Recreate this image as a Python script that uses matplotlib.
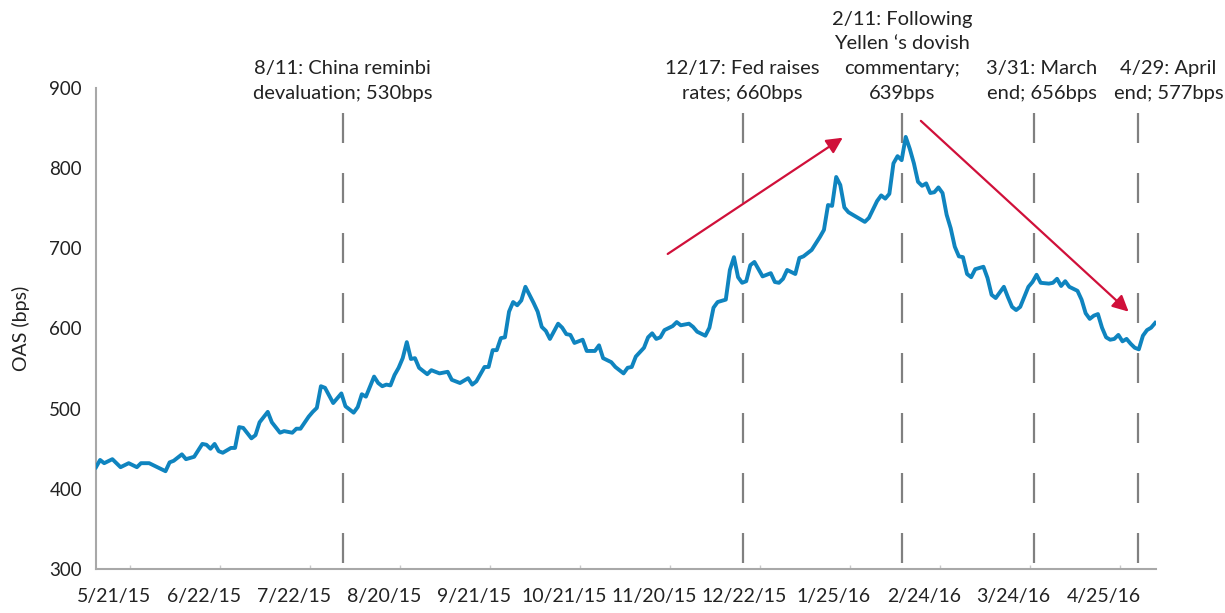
import matplotlib
matplotlib.use("Agg")
import matplotlib.pyplot as plt
import numpy as np

plt.rcParams['font.family'] = ['Lato', 'DejaVu Sans']

# trading-day index of each reading, and OAS value (bps)
day_idx = [0, 1, 2, 4, 6, 8, 10, 11, 13, 15, 17, 18, 19, 21, 22, 24, 25, 26, 27, 28,
           29, 30, 31, 33, 34, 35, 36, 38, 39, 40, 42, 43, 45, 46, 48, 49, 50, 52, 53, 54,
           55, 56, 58, 60, 61, 63, 64, 65, 66, 68, 69, 70, 71, 72, 73, 74, 75, 76, 77, 78,
           79, 81, 82, 84, 86, 87, 89, 91, 92, 93, 95, 96, 97, 98, 99, 100, 101, 102, 103, 104,
           105, 107, 108, 109, 110, 111, 113, 114, 115, 116, 117, 119, 120, 122, 123, 124, 126, 127, 129, 130,
           131, 132, 134, 135, 136, 137, 138, 139, 141, 142, 143, 145, 146, 147, 149, 150, 151, 152, 154, 155,
           156, 157, 158, 159, 160, 161, 163, 165, 166, 167, 168, 169, 171, 172, 173, 175, 177, 178, 179, 180,
           181, 182, 183, 184, 186, 188, 189, 191, 192, 193, 194, 195, 196, 197, 198, 199, 200, 201, 202, 203,
           204, 205, 206, 207, 208, 209, 210, 211, 212, 213, 214, 215, 217, 218, 219, 220, 222, 223, 224, 225,
           226, 228, 229, 230, 231, 233, 234, 235, 236, 237, 238, 240, 241, 242, 243, 244, 245, 246, 247, 248,
           249, 250, 251, 252, 253, 254, 255, 256, 257, 258, 259]
oas = [427, 436, 432, 437, 427, 432, 427, 432, 432, 427, 422, 433, 435, 443, 437, 440, 448, 456, 455, 450,
       456, 447, 445, 451, 451, 477, 476, 463, 467, 483, 496, 483, 470, 472, 470, 475, 475, 490, 496, 501,
       528, 526, 507, 519, 503, 495, 502, 518, 515, 540, 532, 528, 530, 529, 542, 551, 563, 583, 562, 563,
       551, 543, 548, 544, 546, 536, 532, 538, 530, 534, 552, 552, 573, 573, 588, 589, 621, 633, 629, 635,
       652, 632, 621, 602, 597, 587, 606, 601, 593, 592, 582, 586, 572, 572, 579, 563, 558, 552, 544, 551,
       552, 565, 576, 589, 594, 587, 589, 598, 603, 608, 604, 606, 602, 596, 591, 601, 626, 633, 636, 673,
       689, 664, 657, 659, 679, 683, 665, 669, 658, 657, 662, 673, 668, 688, 690, 698, 714, 723, 754, 753,
       789, 779, 751, 745, 739, 733, 738, 759, 766, 762, 768, 806, 815, 810, 839, 824, 806, 783, 778, 781,
       769, 770, 776, 769, 742, 725, 702, 690, 689, 668, 664, 674, 677, 663, 642, 638, 652, 639, 627, 623,
       627, 652, 658, 667, 657, 656, 657, 662, 653, 659, 652, 647, 636, 619, 612, 616, 618, 601, 589, 586,
       587, 592, 584, 587, 581, 576, 574, 591, 598, 601, 607]

tick_labels = ['5/21/15', '6/22/15', '7/22/15', '8/20/15', '9/21/15', '10/21/15',
               '11/20/15', '12/22/15', '1/25/16', '2/24/16', '3/24/16', '4/25/16']
event_idx = [60.3, 158.1, 197.1, 229.3, 254.8]
event_text = ['8/11: China reminbi\ndevaluation; 530bps',
              '12/17: Fed raises\nrates; 660bps',
              '2/11: Following\nYellen \u2018s dovish\ncommentary;\n639bps',
              '3/31: March\nend; 656bps',
              '4/29: April\nend; 577bps']
# arrows (start -> end) in (index, bps)
arrows = [((139.8, 693), (182.6, 838)), ((201.7, 859), (252.5, 621))]

# horizontal nudges for the event labels (layout only)
label_shift = [0, 0, 0, 2, 7.5]

fig = plt.figure(figsize=(12.25, 6.13), dpi=100)
ax = fig.add_axes([96/1225, 44/613, (1156-96)/1225, (569-88)/613])

line_color = '#0f84bf'
ax.plot(day_idx, oas, color=line_color, lw=2.8, solid_joinstyle='round', zorder=3)

ax.set_xlim(0, 259.2)
ax.set_ylim(300, 900)
ax.set_yticks(np.arange(300, 901, 100))
ax.tick_params(axis='y', length=0, pad=10, labelsize=13.5, labelcolor='#222222')

label_pos = [4.4 + 22 * k for k in range(len(tick_labels))]
ax.set_xticks(label_pos)
ax.set_xticklabels(tick_labels)
ax.tick_params(axis='x', which='major', length=0, pad=14, labelsize=14, labelcolor='#222222')
ax.set_xticks([8.3 + 22 * k for k in range(len(tick_labels))], minor=True)
ax.tick_params(axis='x', which='minor', length=3, width=1, color='#c8c8c8', direction='in')

for s in ['top', 'right']:
    ax.spines[s].set_visible(False)
for s in ['left', 'bottom']:
    ax.spines[s].set_color('#a8a8a8')
    ax.spines[s].set_linewidth(1.5)

ax.set_ylabel('OAS (bps)', fontsize=14, color='#222222', labelpad=14)

# event lines and labels
for xi, txt, dx in zip(event_idx, event_text, label_shift):
    ax.plot([xi, xi], [869, 300], color='#808080', lw=1.6,
            linestyle=(0, (13.5, 13.5)), zorder=2, clip_on=False)
    ax.text(xi + dx, 883, txt, ha='center', va='bottom', fontsize=14.5,
            color='#222222', linespacing=1.55, clip_on=False)

for (x0, y0), (x1, y1) in arrows:
    ax.annotate('', xy=(x1, y1), xytext=(x0, y0),
                arrowprops=dict(arrowstyle='-|>', color='#d0103a', lw=1.6,
                                mutation_scale=24, shrinkA=0, shrinkB=0),
                annotation_clip=False, zorder=4)

fig.savefig('out.png', dpi=100)
